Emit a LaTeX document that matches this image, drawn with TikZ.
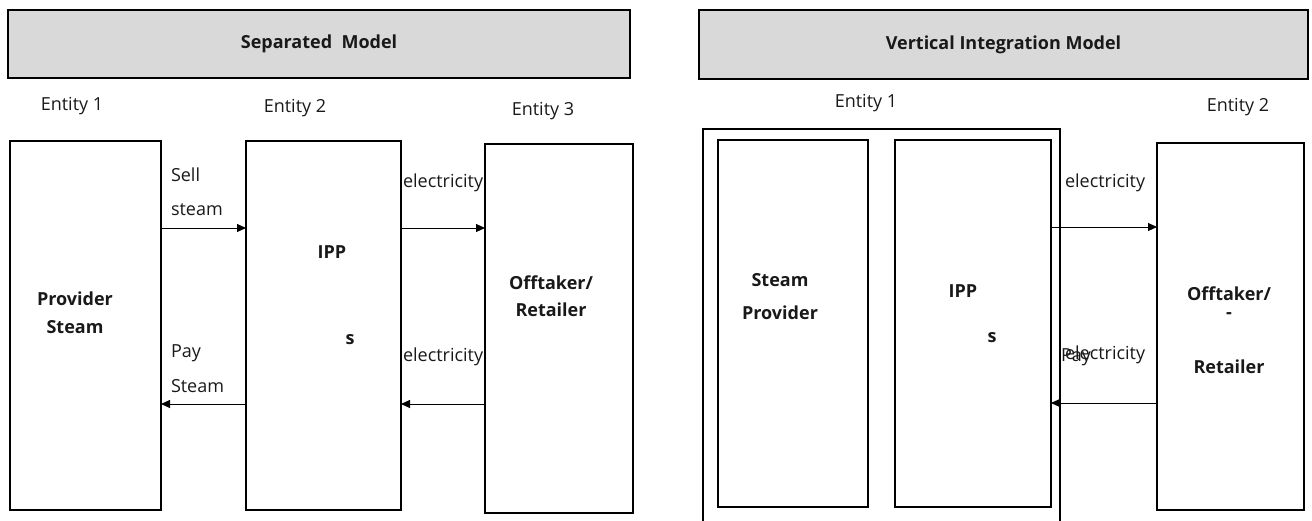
\documentclass[tikz,border=0pt]{standalone}
\usepackage{fontspec}
\setmainfont{Open Sans}
\usetikzlibrary{arrows.meta}
\definecolor{hdrgray}{HTML}{D9D9D9}
\begin{document}
\begin{tikzpicture}[x=1pt,y=-1pt,
  every node/.style={inner sep=0pt, outer sep=0pt, text=black!90,
    font=\fontsize{18}{21}\selectfont},
  header/.style={draw, line width=2.6pt, fill=hdrgray, anchor=north west,
    font=\fontsize{18}{21}\selectfont\bfseries},
  block/.style={draw, line width=1.5pt, anchor=north west},
  lbl/.style={anchor=west},
  strong/.style={font=\fontsize{18}{21}\selectfont\bfseries},
  flow/.style={line width=0.9pt, -{Triangle[length=9pt,width=8pt]}}
]
\useasboundingbox (0,0) rectangle (1312,520);

% ---------- Separated model ----------
\node[header, minimum width=622pt, minimum height=68pt] (hsep) at (8,10) {Separated\ \ Model};

\node (e1) at (72,106) {Entity 1};
\node (e2) at (295,108) {Entity 2};
\node (e3) at (543,111) {Entity 3};

\node[block, minimum width=151pt, minimum height=369pt] (prov) at (10,141) {};
\node[block, minimum width=155pt, minimum height=369pt] (ipp) at (246,141) {};
\node[block, minimum width=148pt, minimum height=369pt] (off) at (485,144) {};

\node[strong] (provT1) at (75,299) {Provider};
\node[strong] (provT2) at (75,327) {Steam};
\node[strong] (ippT1) at (332,252) {IPP};
\node[strong] (ippT2) at (350,340) {s};
\node[strong] (offT1) at (551,283) {Offtaker/};
\node[strong] (offT2) at (551,310) {Retailer};

\coordinate (ytop) at (0,228);
\coordinate (ybot) at (0,404);

\node[lbl] (sell1) at (171,175) {Sell};
\node[lbl] (sell2) at (171,210) {steam};
\node[lbl] (pay1) at (171,353) {Pay};
\node[lbl] (pay2) at (171,386) {Steam};
\node[lbl] (el1) at (403,183) {electricity};
\node[lbl] (el2) at (403,357) {electricity};

\draw[flow] (prov.east |- ytop) -- (ipp.west |- ytop);
\draw[flow] (ipp.east |- ytop) -- (off.west |- ytop);
\draw[flow] (ipp.west |- ybot) -- (prov.east |- ybot);
\draw[flow] (off.west |- ybot) -- (ipp.east |- ybot);

% ---------- Vertical integration model ----------
\node[header, minimum width=609pt, minimum height=69pt] (hvi) at (699,10) {Vertical Integration Model};

\node (f1) at (866,103) {Entity 1};
\node (f2) at (1238,107) {Entity 2};

\node[block, minimum width=357pt, minimum height=400pt] (group) at (703,129) {};
\node[block, minimum width=150pt, minimum height=367pt] (steam) at (718,140) {};
\node[block, minimum width=156pt, minimum height=367pt] (ippv) at (895,140) {};
\node[block, minimum width=147pt, minimum height=367pt] (offv) at (1157,143) {};

\node[strong] (stT1) at (780,280) {Steam};
\node[strong] (stT2) at (780,313) {Provider};
\node[strong] (ipvT1) at (963,291) {IPP};
\node[strong] (ipvT2) at (992,338) {s};
\node[strong] (ofvT1) at (1229,294) {Offtaker/};
\node[strong] (ofvT2) at (1229,316) {-};
\node[strong] (ofvT3) at (1229,367) {Retailer};

\coordinate (vtop) at (0,227);
\coordinate (vbot) at (0,403);

\node[lbl] (vel1) at (1065,183) {electricity};
\node[lbl] (vpay) at (1061,357) {Pay};
\node[lbl] (vel2) at (1065,355) {electricity};

\draw[flow] (ippv.east |- vtop) -- (offv.west |- vtop);
\draw[flow] (offv.west |- vbot) -- (ippv.east |- vbot);
\end{tikzpicture}
\end{document}
